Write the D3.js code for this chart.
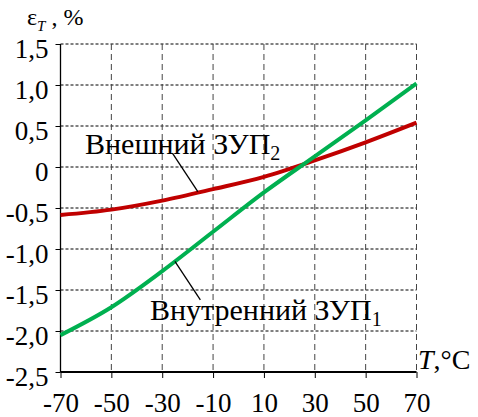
<!DOCTYPE html>
<html>
<head>
<meta charset="utf-8">
<script src="https://cdn.jsdelivr.net/npm/d3@7"></script>
<style>
  body { margin: 0; background: #fff; }
</style>
</head>
<body>
<div id="chart"></div>
<script>
// температура, °C
const temps = [-70, -50, -30, -10, 10, 30, 50, 70];
// Внутренний ЗУП1 (зелёная)
const inner = [-2.05, -1.71, -1.27, -0.79, -0.31, 0.13, 0.57, 1.02];
// Внешний ЗУП2 (красная)
const outer = [-0.585, -0.52, -0.41, -0.27, -0.12, 0.08, 0.30, 0.54];

const xTicks = [-70, -50, -30, -10, 10, 30, 50, 70];
const yTicks = [-2.5, -2.0, -1.5, -1.0, -0.5, 0, 0.5, 1.0, 1.5];

const FONT = 'Liberation Serif';
const width = 478, height = 417;

const svg = d3.select('#chart').append('svg')
    .attr('width', width)
    .attr('height', height)
    .attr('font-family', FONT);

const x = d3.scaleLinear().domain([-70, 70]).range([60.5, 416.5]);
const y = d3.scaleLinear().domain([-2.5, 1.5]).range([372, 44]);

const fmtY = v => v === 0 ? '0' : v.toFixed(1).replace('.', ',');
const fmtX = v => String(v);

// сетка
svg.append('g').selectAll('line')
    .data(yTicks.filter(v => v > -2.5))
    .enter().append('line')
    .attr('x1', x(-70)).attr('x2', x(70))
    .attr('y1', d => y(d)).attr('y2', d => y(d))
    .style('stroke', '#000')
    .style('stroke-width', 1)
    .style('stroke-dasharray', '3,2');

svg.append('g').selectAll('line')
    .data(xTicks.slice(1))
    .enter().append('line')
    .attr('x1', d => x(d)).attr('x2', d => x(d))
    .attr('y1', y(1.5)).attr('y2', y(-2.5))
    .style('stroke', '#444')
    .style('stroke-width', 1)
    .style('stroke-dasharray', '6,4');

// оси
const yAxis = svg.append('g')
    .attr('transform', `translate(${x(-70)},0)`)
    .call(d3.axisLeft(y).tickValues(yTicks).tickSize(5).tickFormat(fmtY));
yAxis.attr('font-family', FONT).attr('font-size', 27);
yAxis.select('.domain').attr('d', `M0,${y(1.5)}V${y(-2.5)}`).style('stroke-width', 1.3);
yAxis.selectAll('text')
    .attr('x', -12)
    .attr('dy', '0.5em');

const xAxis = svg.append('g')
    .attr('transform', `translate(0,${y(-2.5)})`)
    .call(d3.axisBottom(x).tickValues(xTicks).tickSize(6).tickFormat(fmtX));
xAxis.attr('font-family', FONT).attr('font-size', 27);
xAxis.select('.domain').attr('d', `M${x(-70)},0H${x(70)}`).style('stroke-width', 2);
xAxis.selectAll('text')
    .attr('y', 21)
    .attr('dy', '0.71em');

// кривые
const line = d3.line()
    .x((d, i) => x(temps[i]))
    .y(d => y(d))
    .curve(d3.curveMonotoneX);

svg.append('path')
    .datum(outer)
    .attr('d', line)
    .style('fill', 'none')
    .style('stroke', '#c00000')
    .style('stroke-width', 4);

svg.append('path')
    .datum(inner)
    .attr('d', line)
    .style('fill', 'none')
    .style('stroke', '#00b050')
    .style('stroke-width', 4);

// выноски
svg.append('line')
    .attr('x1', x(-16)).attr('y1', y(-0.3))
    .attr('x2', x(-26)).attr('y2', y(0.17))
    .style('stroke', '#000').style('stroke-width', 1.3);
svg.append('line')
    .attr('x1', x(-25)).attr('y1', y(-1.15))
    .attr('x2', x(-15)).attr('y2', y(-1.62))
    .style('stroke', '#000').style('stroke-width', 1.3);

// подписи
const lab1 = svg.append('text')
    .attr('x', 85).attr('y', 154)
    .attr('font-size', 30);
lab1.append('tspan').text('Внешний ЗУП');
lab1.append('tspan').attr('dy', 6).attr('font-size', 20).text('2');

const lab2 = svg.append('text')
    .attr('x', 150).attr('y', 320)
    .attr('font-size', 30);
lab2.append('tspan').text('Внутренний ЗУП');
lab2.append('tspan').attr('dy', 6).attr('font-size', 20).text('1');

// подписи осей
const yTitle = svg.append('text')
    .attr('x', 27).attr('y', 25)
    .attr('font-size', 24);
yTitle.append('tspan').text('ε');
yTitle.append('tspan').attr('dy', 6).attr('font-size', 15).attr('font-style', 'italic').text('T');
yTitle.append('tspan').attr('dy', -6).text(' , %');

const xTitle = svg.append('text')
    .attr('x', 418).attr('y', 369)
    .attr('font-size', 28);
xTitle.append('tspan').attr('font-style', 'italic').text('T');
xTitle.append('tspan').text(',°C');
</script>
</body>
</html>
